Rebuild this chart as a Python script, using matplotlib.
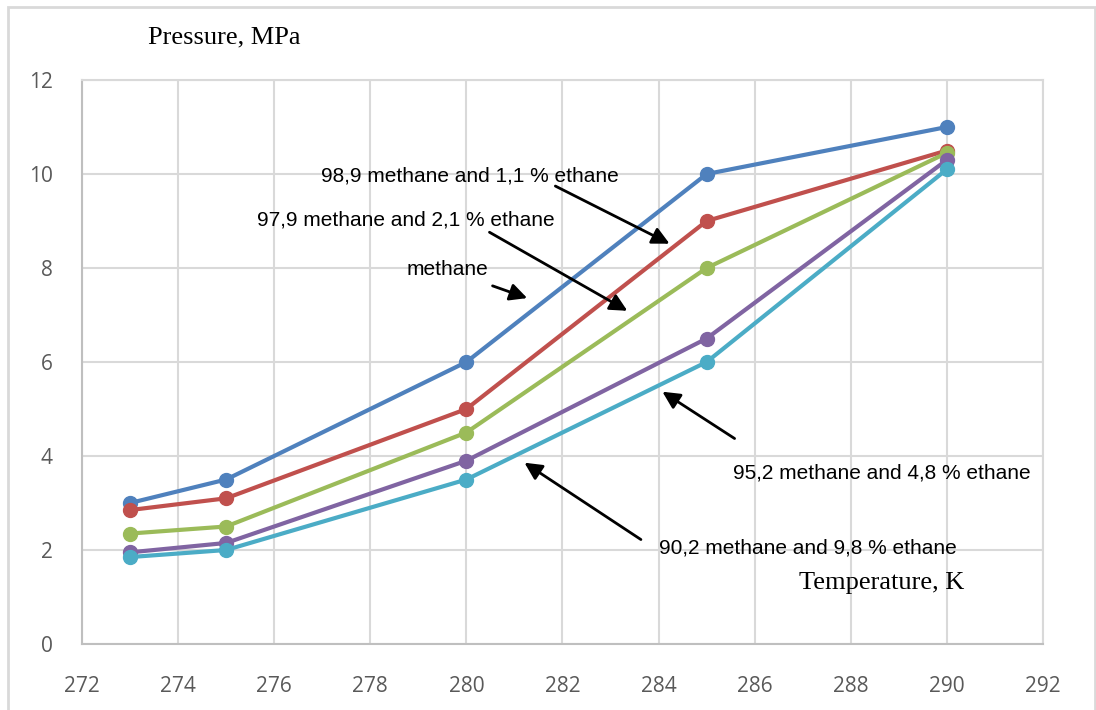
import matplotlib
matplotlib.use("Agg")
import matplotlib.pyplot as plt
from matplotlib.patches import Rectangle

# temperature, K
temps = [273, 275, 280, 285, 290]

# pressure, MPa
p_methane = [3.0, 3.5, 6.0, 10.0, 11.0]
p_989 = [2.85, 3.1, 5.0, 9.0, 10.5]
p_979 = [2.35, 2.5, 4.5, 8.0, 10.45]
p_952 = [1.95, 2.15, 3.9, 6.5, 10.3]
p_902 = [1.85, 2.0, 3.5, 6.0, 10.1]

series = [p_methane, p_989, p_979, p_952, p_902]
colors = ["#4F81BD", "#C0504D", "#9BBB59", "#8064A2", "#4BACC6"]

xticks = list(range(272, 293, 2))
yticks = list(range(0, 13, 2))

fig = plt.figure(figsize=(10.96, 7.10), dpi=100)
ax = fig.add_axes([82 / 1096, 66 / 710, 961 / 1096, 564 / 710])

for p, c in zip(series, colors):
    ax.plot(temps, p, color=c, lw=3, marker="o", ms=10, zorder=3)

ax.set_xlim(272, 292)
ax.set_ylim(0, 12)
ax.set_xticks(xticks)
ax.set_yticks(yticks)
ax.grid(color="#D9D9D9", lw=1.5)
ax.set_axisbelow(True)
for s in ax.spines.values():
    s.set_color("#D9D9D9")
    s.set_linewidth(1.5)
ax.spines["bottom"].set_color("#BFBFBF")
ax.spines["left"].set_color("#BFBFBF")
ax.tick_params(length=0, labelsize=15, labelcolor="#595959")
ax.tick_params(axis="x", pad=23)
ax.tick_params(axis="y", pad=21)
for lab in ax.get_xticklabels() + ax.get_yticklabels():
    lab.set_fontfamily("Open Sans")

arrow = dict(arrowstyle="-|>", color="black", lw=2, mutation_scale=26)
txt = dict(fontsize=15, family="Liberation Sans", ha="center", va="center")

ax.annotate("", xy=(284.28, 8.49), xytext=(281.8, 9.77), arrowprops=arrow)
ax.text(280.07, 9.96, "98,9 methane and 1,1 % ethane", **txt)

ax.annotate("", xy=(283.40, 7.06), xytext=(280.43, 8.79), arrowprops=arrow)
ax.text(278.73, 9.02, "97,9 methane and 2,1 % ethane", **txt)

ax.annotate("", xy=(281.32, 7.34), xytext=(280.49, 7.64), arrowprops=arrow)
ax.text(279.6, 7.96, "methane", **txt)

ax.annotate("", xy=(284.03, 5.40), xytext=(285.63, 4.34), arrowprops=arrow)
ax.text(288.65, 3.64, "95,2 methane and 4,8 % ethane", **txt)

ax.annotate("", xy=(281.16, 3.89), xytext=(283.68, 2.19), arrowprops=arrow)
ax.text(287.11, 2.04, "90,2 methane and 9,8 % ethane", **txt)

ax.text(288.65, 1.30, "Temperature, K", fontsize=19, family="Liberation Serif",
        ha="center", va="center")
fig.text(224 / 1096, 1 - 37 / 710, "Pressure, MPa", fontsize=19,
         family="Liberation Serif", ha="center", va="center")

fig.patches.append(Rectangle((8 / 1096, -0.1), 1087 / 1096, 1.1 - 7 / 710,
                             transform=fig.transFigure, fill=False,
                             edgecolor="#D9D9D9", lw=2))

fig.savefig("out.png", dpi=100)
